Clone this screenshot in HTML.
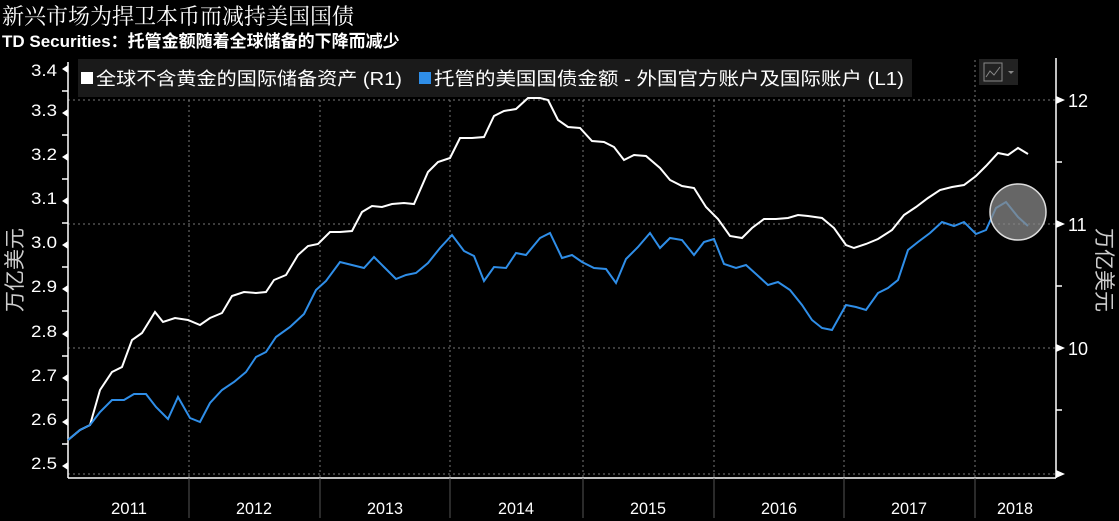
<!DOCTYPE html><html><head><meta charset="utf-8"><style>
body{margin:0;background:#000;width:1119px;height:521px;overflow:hidden}
svg{display:block;font-family:"Liberation Sans","Noto Sans CJK SC",sans-serif}
</style></head><body>
<svg width="1119" height="521" viewBox="0 0 1119 521">
<rect width="1119" height="521" fill="#000"/>
<text x="2" y="24" fill="#fff" font-size="22" font-family="Liberation Serif,'Noto Serif CJK SC',serif">新兴市场为捍卫本币而减持美国国债</text>
<text x="2" y="47" fill="#fff" font-size="17" font-weight="bold">TD Securities：托管金额随着全球储备的下降而减少</text>
<g stroke="#777" stroke-dasharray="2,3" stroke-width="1">
<line x1="68" y1="100" x2="1055" y2="100"/><line x1="68" y1="224" x2="1055" y2="224"/><line x1="68" y1="348" x2="1055" y2="348"/><line x1="68" y1="474" x2="1055" y2="474"/>
<line x1="189" y1="60" x2="189" y2="478"/><line x1="320" y1="60" x2="320" y2="478"/><line x1="450" y1="60" x2="450" y2="478"/><line x1="583" y1="60" x2="583" y2="478"/><line x1="714" y1="60" x2="714" y2="478"/><line x1="844" y1="60" x2="844" y2="478"/><line x1="975" y1="60" x2="975" y2="478"/>
</g>
<g stroke="#fff" stroke-width="1.5"><line x1="68" y1="62" x2="68" y2="478"/><line x1="68" y1="478" x2="1056" y2="478"/><line x1="1056" y1="58" x2="1056" y2="478"/>
<line x1="1056" y1="162" x2="1062" y2="162"/><line x1="1056" y1="286" x2="1062" y2="286"/><line x1="1056" y1="410" x2="1062" y2="410"/>
<line x1="62" y1="91" x2="68" y2="91"/><line x1="62" y1="135" x2="68" y2="135"/><line x1="62" y1="179" x2="68" y2="179"/><line x1="62" y1="223" x2="68" y2="223"/><line x1="62" y1="267" x2="68" y2="267"/><line x1="62" y1="311" x2="68" y2="311"/><line x1="62" y1="356" x2="68" y2="356"/><line x1="62" y1="400" x2="68" y2="400"/><line x1="62" y1="444" x2="68" y2="444"/>
</g>
<g stroke="#555"><line x1="189" y1="478" x2="189" y2="518"/><line x1="320" y1="478" x2="320" y2="518"/><line x1="450" y1="478" x2="450" y2="518"/><line x1="583" y1="478" x2="583" y2="518"/><line x1="714" y1="478" x2="714" y2="518"/><line x1="844" y1="478" x2="844" y2="518"/><line x1="975" y1="478" x2="975" y2="518"/></g>
<g fill="#fff" font-size="17" text-anchor="end">
<text x="57" y="76" textLength="26" lengthAdjust="spacingAndGlyphs">3.4</text><text x="57" y="116" textLength="26" lengthAdjust="spacingAndGlyphs">3.3</text><text x="57" y="160" textLength="26" lengthAdjust="spacingAndGlyphs">3.2</text><text x="57" y="204" textLength="26" lengthAdjust="spacingAndGlyphs">3.1</text><text x="57" y="248" textLength="26" lengthAdjust="spacingAndGlyphs">3.0</text><text x="57" y="292" textLength="26" lengthAdjust="spacingAndGlyphs">2.9</text><text x="57" y="337" textLength="26" lengthAdjust="spacingAndGlyphs">2.8</text><text x="57" y="381" textLength="26" lengthAdjust="spacingAndGlyphs">2.7</text><text x="57" y="425" textLength="26" lengthAdjust="spacingAndGlyphs">2.6</text><text x="57" y="469" textLength="26" lengthAdjust="spacingAndGlyphs">2.5</text>
</g>
<g fill="#fff"><path d="M62 69l6-4v8zM62 113l6-4v8zM62 157l6-4v8zM62 201l6-4v8zM62 245l6-4v8zM62 289l6-4v8zM62 334l6-4v8zM62 378l6-4v8zM62 422l6-4v8zM62 466l6-4v8z"/>
<path d="M1056 96l9 4-9 4zM1056 220l9 4-9 4zM1056 344l9 4-9 4zM1056 470l9 4-9 4z"/></g>
<g fill="#fff" font-size="18"><text x="1068" y="107">12</text><text x="1068" y="231">11</text><text x="1068" y="355">10</text></g>
<text transform="translate(22,270) rotate(-90)" fill="#ccc" font-size="21" text-anchor="middle">万亿美元</text>
<text transform="translate(1097,270) rotate(90)" fill="#ccc" font-size="21" text-anchor="middle">万亿美元</text>
<g fill="#fff" font-size="17" text-anchor="middle">
<text x="129" y="514" textLength="36" lengthAdjust="spacingAndGlyphs">2011</text><text x="254" y="514" textLength="36" lengthAdjust="spacingAndGlyphs">2012</text><text x="385" y="514" textLength="36" lengthAdjust="spacingAndGlyphs">2013</text><text x="516" y="514" textLength="36" lengthAdjust="spacingAndGlyphs">2014</text><text x="648" y="514" textLength="36" lengthAdjust="spacingAndGlyphs">2015</text><text x="779" y="514" textLength="36" lengthAdjust="spacingAndGlyphs">2016</text><text x="909" y="514" textLength="36" lengthAdjust="spacingAndGlyphs">2017</text><text x="1015" y="514" textLength="36" lengthAdjust="spacingAndGlyphs">2018</text></g>
<rect x="78" y="59" width="834" height="38" fill="#1a1a1a"/>
<rect x="81" y="72" width="12" height="12" fill="#fff"/>
<text x="96" y="85" fill="#fff" font-size="18" textLength="306" lengthAdjust="spacingAndGlyphs">全球不含黄金的国际储备资产 (R1)</text>
<rect x="419" y="72" width="12" height="12" fill="#2f8ee8"/>
<text x="434" y="85" fill="#fff" font-size="18" textLength="470" lengthAdjust="spacingAndGlyphs">托管的美国国债金额 - 外国官方账户及国际账户 (L1)</text>
<rect x="979" y="59" width="39" height="26" fill="#222"/>
<rect x="984" y="63" width="18" height="18" fill="none" stroke="#888"/>
<polyline points="986,77 990,71 994,75 1000,67" fill="none" stroke="#888"/>
<path d="M1008 71h6l-3 3z" fill="#888"/>
<polyline fill="none" stroke="#fff" stroke-width="2" points="68,440 80,430 90,425 100,390 112,372 122,367 132,340 142,333 155,312 163,322 175,318 188,320 200,325 210,318 222,313 232,296 244,292 256,293 266,292 274,280 286,275 298,255 308,246 318,244 330,232 340,232 352,231 362,212 372,206 382,207 392,204 404,203 414,204 428,172 438,162 450,158 460,138 472,138 484,137 494,116 504,111 516,109 528,98 540,98 548,100 558,120 568,127 580,128 592,141 604,142 614,147 624,160 634,155 646,156 660,168 670,180 682,186 694,188 706,207 718,219 730,236 742,238 752,228 764,219 776,219 788,218 798,215 808,216 822,218 834,228 846,245 854,248 866,244 878,239 892,230 904,215 916,207 928,198 940,190 952,187 964,185 976,176 986,166 998,153 1008,155 1018,148 1028,154"/>
<polyline fill="none" stroke="#2f8ee8" stroke-width="2" points="68,440 80,430 90,425 100,412 112,400 124,400 134,394 146,394 156,407 168,419 178,397 190,418 200,422 210,403 222,390 234,382 246,372 256,357 266,352 276,337 290,327 304,314 316,290 326,281 340,262 352,265 364,268 374,257 384,267 396,279 406,275 416,273 428,263 440,248 452,235 464,251 474,256 484,281 494,267 506,268 516,253 526,255 540,238 550,233 562,258 572,255 582,262 594,268 606,269 616,283 626,259 638,247 650,233 660,248 670,238 682,240 694,255 704,242 714,239 724,264 736,268 746,265 756,274 768,285 778,282 790,290 802,305 812,320 822,328 832,330 846,305 856,307 866,310 878,293 888,288 898,280 908,250 918,242 930,233 942,222 954,226 964,222 976,234 986,230 996,208 1006,202 1018,217 1028,226"/>
<circle cx="1018" cy="212" r="28" fill="#888" fill-opacity="0.75" stroke="#ddd" stroke-width="1.5"/>
</svg></body></html>
